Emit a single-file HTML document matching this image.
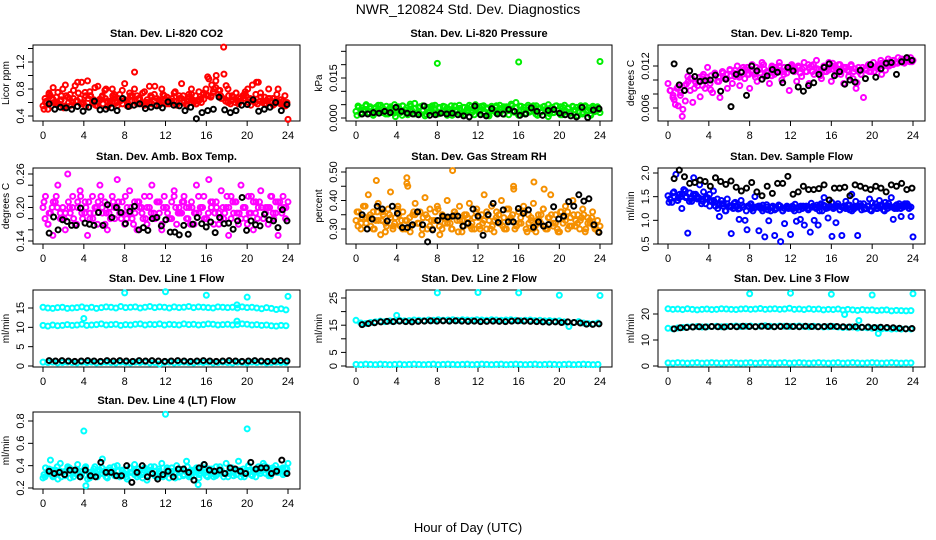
<!DOCTYPE html>
<html><head><meta charset="utf-8">
<style>
html,body{margin:0;padding:0;background:#fff;}
svg{display:block;font-family:"Liberation Sans",Arial,sans-serif;}
</style></head>
<body>
<svg id="chart" width="936" height="540" viewBox="0 0 936 540">
<text x="468" y="14" text-anchor="middle" font-size="14">NWR_120824  Std. Dev. Diagnostics</text>
<text x="468" y="532" text-anchor="middle" font-size="13">Hour of Day (UTC)</text>
</svg>
<script>
// ---------- data arrays ----------
const xTicks = [0,4,8,12,16,20,24];

const co2Red = [0.55,0.6,0.5,0.7,0.65,0.58,0.75,0.62,0.8,0.55,0.68,0.72,0.6,0.85,0.9,0.66,0.58,0.75,0.92,0.7,0.6,0.82,0.55,0.65,0.7,0.78,0.62,0.58,0.8,0.68,0.6,0.72,0.66,0.88,0.55,0.74,0.62,1.05,0.7,0.64,0.58,0.76,0.6,0.84,0.68,0.72,0.56,0.62,0.8,0.7,0.6,0.58,0.66,0.74,0.62,0.7,0.88,0.6,0.56,0.68,0.72,0.62,0.58,0.76,0.6,0.65,0.72,0.95,0.7,0.8,1.0,0.78,0.66,1.42,0.85,0.7,0.62,0.68,0.74,0.58,0.62,0.66,0.7,0.6,0.56,0.64,0.72,0.9,0.68,0.62,0.58,0.66,0.6,0.56,0.62,0.8,0.58,0.62,0.55,0.35];
const co2Red2 = [0.5,0.62,0.72,0.55,0.6,0.68,0.58,0.64,0.52,0.7,0.6,0.56,0.66,0.62,0.74,0.58,0.6,0.54,0.66,0.7,0.62,0.56,0.6,0.64,0.58,0.66,0.54,0.62,0.7,0.6,0.56,0.62,0.58,0.64,0.6,0.55,0.7,0.62,0.58,0.66,0.6,0.56,0.64,0.6,0.58,0.62,0.66,0.56,0.6,0.62,0.58,0.64,0.6,0.62,0.56,0.6,0.66,0.62,0.58,0.72,0.64,0.6,0.58,0.62,0.66,0.74,0.8,0.7,0.68,0.76,0.82,0.72,0.7,0.66,0.62,0.6,0.58,0.64,0.6,0.62,0.66,0.7,0.76,0.8,0.66,0.62,0.6,0.58,0.62,0.6,0.58,0.62,0.66,0.6,0.58,0.62,0.6,0.58,0.56,0.6];
const co2Red3 = [0.66,0.74,0.82,0.6,0.7,0.86,0.66,0.78,0.62,0.9,0.7,0.76,0.64,0.84,0.68,0.8,0.6,0.72,0.66,0.78,0.62,0.7,0.8,0.66,0.74,0.6,0.7,0.84,0.64,0.72,0.68,0.62,0.76,0.66,0.7,0.62,0.8,0.7,0.64,0.72,0.98,0.86,0.92,0.78,1.02,0.8,0.7,0.74,0.66,0.72,0.64,0.86,0.9,0.74,0.68,0.8,0.66,0.72,0.64,0.7];
const co2Black = [0.58,0.5,0.53,0.52,0.5,0.54,0.47,0.53,0.62,0.49,0.5,0.52,0.48,0.66,0.54,0.56,0.58,0.51,0.53,0.55,0.52,0.61,0.56,0.55,0.48,0.53,0.36,0.45,0.48,0.5,0.68,0.49,0.45,0.48,0.56,0.57,0.64,0.47,0.5,0.53,0.6,0.48,0.57];

const presGreen = [0.0025,0.004,0.0015,0.003,0.0045,0.002,0.0035,0.001,0.004,0.0025,0.0048,0.002,0.003,0.0015,0.0042,0.0028,0.0005,0.0038,0.002,0.0045,0.003,0.0012,0.0052,0.0025,0.0035,0.0018,0.0042,0.003,0.0008,0.004,0.0022,0.0046,0.003,0.0015,0.0038,0.0025,0.0042,0.002,0.0032,0.001,0.0045,0.0028,0.0036,0.0018,0.004,0.0022,0.0048,0.003,0.0012,0.0038,0.0025,0.0044,0.0018,0.0034,0.0008,0.004,0.0026,0.0046,0.002,0.0036,0.0014,0.0042,0.0028,0.0052,0.0022,0.0038,0.001,0.0044,0.003,0.0018,0.004,0.0025,0.0046,0.0015,0.0035,0.0022,0.0042,0.0028,0.0005,0.0038,0.002,0.0045,0.003,0.0012,0.004,0.0025,0.0035,0.0018,0.0042,0.003,0.0008,0.004,0.0022,0.0046,0.003,0.0015,0.0038,0.0025,0.0042,0.002];
const presGreen2 = [0.001,0.002,0.003,0.0018,0.0012,0.0028,0.0022,0.0015,0.0032,0.0018,0.0025,0.001,0.002,0.003,0.0015,0.0022,0.0028,0.0012,0.0035,0.002,0.0016,0.0026,0.001,0.0022,0.003,0.0018,0.0012,0.0028,0.002,0.0032,0.0015,0.0024,0.001,0.0028,0.0018,0.0022,0.0035,0.0012,0.0026,0.0018,0.003,0.0015,0.0022,0.0028,0.001,0.0024,0.0032,0.0016,0.002,0.0028,0.0012,0.0025,0.0018,0.003,0.0022,0.0015,0.0028,0.001,0.0024,0.0032];
const presGreen3 = [0.0045,0.0038,0.005,0.0042,0.0035,0.0048,0.004,0.0044,0.0036,0.005,0.0042,0.0046,0.0038,0.0044,0.0055,0.004,0.0046,0.0036,0.0042,0.0048,0.004,0.0044,0.0038,0.0046,0.0042,0.0048,0.004,0.0036,0.0044,0.005,0.0042,0.0046,0.0038,0.0044,0.004,0.0048,0.0042,0.0036,0.0046,0.0058,0.0044,0.004,0.0048,0.0042,0.0046,0.0038,0.0044,0.005,0.004,0.0046,0.0042,0.0048,0.0038,0.0044,0.004,0.0046,0.0042,0.0038,0.0044,0.004];
const presBlack = [0.0015,0.0015,0.002,0.0018,0.0025,0.002,0.004,0.0025,0.0018,0.0015,0.0012,0.0045,0.001,0.0012,0.0018,0.0015,0.0018,0.0012,0.0008,0.0004,0.0045,0.0012,0.0008,0.0035,0.0015,0.0015,0.0032,0.0025,0.001,0.0015,0.0038,0.0025,0.001,0.0028,0.0032,0.0018,0.0012,0.0008,0.0004,0.004,0.0002,0.003,0.0035];
const presOutHours = [8,16,24];
const presOutVals = [0.0205,0.021,0.0212];

const tempMag = [0.0095,0.0085,0.0075,0.0065,0.009,0.0078,0.0058,0.007,0.0105,0.0085,0.0068,0.0098,0.0092,0.0076,0.0105,0.0088,0.0118,0.0095,0.0082,0.0108,0.0098,0.0075,0.0112,0.0102,0.0088,0.0115,0.0095,0.0105,0.012,0.0092,0.0112,0.0102,0.0118,0.0088,0.0122,0.0108,0.0098,0.0115,0.0125,0.0105,0.0112,0.0095,0.012,0.0108,0.0115,0.0125,0.01,0.0118,0.011,0.0085,0.0122,0.0112,0.0098,0.0118,0.0105,0.0125,0.0112,0.0095,0.012,0.0108,0.0128,0.0115,0.0102,0.012,0.0112,0.0125,0.0098,0.0115,0.0108,0.0122,0.0112,0.0095,0.0118,0.0105,0.0122,0.0112,0.0088,0.0118,0.0108,0.0075,0.0115,0.0122,0.0112,0.0125,0.0118,0.0122,0.0128,0.012,0.0125,0.013,0.0122,0.0128,0.0125,0.0132,0.0128,0.0125,0.013,0.0128,0.0132,0.0128];
const tempMag2 = [0.0078,0.0088,0.0082,0.0092,0.0098,0.0102,0.0096,0.0104,0.0108,0.01,0.0106,0.011,0.0104,0.0112,0.0108,0.0114,0.011,0.0106,0.0112,0.0116,0.0108,0.0114,0.0118,0.011,0.0116,0.0112,0.0118,0.0114,0.012,0.0112,0.0116,0.0118,0.0114,0.012,0.0116,0.0112,0.0118,0.0122,0.0116,0.0112,0.0118,0.0114,0.012,0.0116,0.0122,0.0118,0.0114,0.012,0.0116,0.0112,0.0118,0.0114,0.0118,0.0112,0.0116,0.0108,0.0114,0.012,0.0122,0.0124,0.0126,0.0124,0.0128,0.0126];
const tempMag3 = [0.0085,0.0072,0.0063,0.0048,0.0094,0.0102,0.0088,0.0098,0.0092,0.0104,0.0086,0.0108,0.0098,0.011,0.0102,0.0106,0.0114,0.0104,0.0118,0.0108,0.0112,0.0104,0.0116,0.0122,0.011,0.0106,0.0118,0.0112,0.0108,0.0116,0.012,0.0114,0.011,0.0118,0.0122,0.0112,0.0116,0.0106,0.0112,0.0118,0.0124,0.0114,0.0108,0.0118,0.0112,0.0102,0.0096,0.0108,0.0116,0.0112,0.0118,0.012,0.0124,0.0122,0.0126,0.0128,0.0124,0.013,0.0128,0.0126];
const tempBlack = [0.0123,0.0093,0.0085,0.0113,0.0105,0.0098,0.0099,0.01,0.0107,0.0084,0.0101,0.0062,0.0108,0.0111,0.0078,0.012,0.0113,0.0101,0.0106,0.0115,0.0111,0.0096,0.0118,0.0113,0.009,0.0084,0.0092,0.0096,0.0108,0.0118,0.0123,0.0106,0.0112,0.0094,0.01,0.0097,0.0114,0.0102,0.0122,0.0104,0.0116,0.0124,0.0125,0.0108,0.0126,0.0132,0.0128];

const ambMag = [0.2,0.22,0.17,0.19,0.15,0.21,0.24,0.18,0.2,0.16,0.26,0.19,0.22,0.17,0.2,0.23,0.18,0.21,0.15,0.19,0.22,0.2,0.17,0.24,0.19,0.21,0.16,0.2,0.22,0.18,0.25,0.19,0.21,0.17,0.2,0.23,0.18,0.21,0.16,0.2,0.19,0.22,0.17,0.2,0.24,0.18,0.21,0.19,0.16,0.22,0.2,0.18,0.21,0.23,0.17,0.2,0.19,0.22,0.18,0.2,0.21,0.17,0.24,0.19,0.2,0.22,0.18,0.25,0.2,0.17,0.21,0.19,0.23,0.18,0.2,0.15,0.22,0.19,0.21,0.17,0.24,0.2,0.18,0.22,0.19,0.16,0.21,0.2,0.23,0.18,0.2,0.17,0.22,0.19,0.21,0.15,0.2,0.22,0.18,0.21];
const ambMag2 = [0.18,0.19,0.21,0.2,0.18,0.19,0.2,0.18,0.21,0.19,0.2,0.18,0.19,0.21,0.2,0.19,0.18,0.2,0.21,0.19,0.18,0.2,0.19,0.21,0.18,0.2,0.19,0.18,0.21,0.2,0.19,0.18,0.2,0.19,0.21,0.18,0.2,0.19,0.2,0.18,0.19,0.21,0.2,0.18,0.19,0.2,0.21,0.19,0.18,0.2,0.19,0.21,0.18,0.2,0.19,0.2,0.18,0.21,0.19,0.2];
const ambMag3 = [0.21,0.17,0.2,0.22,0.19,0.18,0.21,0.2,0.17,0.22,0.19,0.21,0.18,0.2,0.22,0.17,0.19,0.21,0.2,0.18,0.22,0.19,0.17,0.21,0.2,0.18,0.22,0.19,0.21,0.17,0.2,0.18,0.22,0.19,0.21,0.2,0.17,0.19,0.22,0.2,0.18,0.21,0.19,0.17,0.2,0.22,0.18,0.21,0.19,0.2,0.17,0.22,0.19,0.21,0.18,0.2,0.22,0.19,0.21,0.2];
const ambBlack = [0.154,0.183,0.16,0.178,0.175,0.168,0.168,0.199,0.172,0.17,0.168,0.191,0.168,0.205,0.182,0.2,0.191,0.171,0.193,0.202,0.16,0.164,0.159,0.18,0.182,0.167,0.178,0.156,0.156,0.151,0.168,0.152,0.17,0.182,0.171,0.165,0.174,0.155,0.182,0.171,0.172,0.161,0.176,0.218,0.159,0.176,0.169,0.167,0.188,0.178,0.176,0.164,0.196,0.176];

const rhOrange = [0.33,0.36,0.3,0.38,0.34,0.42,0.31,0.36,0.33,0.39,0.28,0.35,0.32,0.37,0.43,0.3,0.34,0.38,0.31,0.36,0.33,0.45,0.29,0.35,0.39,0.32,0.36,0.3,0.41,0.34,0.37,0.3,0.33,0.38,0.28,0.35,0.32,0.4,0.34,0.3,0.36,0.33,0.38,0.29,0.35,0.32,0.39,0.3,0.34,0.37,0.31,0.35,0.42,0.3,0.33,0.38,0.29,0.36,0.32,0.4,0.34,0.3,0.37,0.33,0.44,0.31,0.36,0.32,0.38,0.3,0.35,0.33,0.39,0.29,0.35,0.32,0.37,0.3,0.34,0.42,0.31,0.35,0.29,0.36,0.32,0.38,0.3,0.34,0.4,0.31,0.35,0.33,0.37,0.29,0.34,0.32,0.36,0.3,0.33,0.31];
const rhOrange2 = [0.31,0.34,0.32,0.35,0.3,0.33,0.36,0.31,0.34,0.32,0.35,0.3,0.33,0.31,0.35,0.32,0.34,0.3,0.33,0.36,0.31,0.34,0.32,0.3,0.35,0.33,0.31,0.34,0.32,0.36,0.3,0.33,0.35,0.31,0.34,0.32,0.3,0.33,0.35,0.31,0.34,0.36,0.32,0.3,0.33,0.35,0.31,0.34,0.32,0.3,0.36,0.33,0.31,0.35,0.32,0.34,0.3,0.33,0.31,0.29];
const rhOrange3 = [0.36,0.32,0.38,0.34,0.3,0.36,0.33,0.29,0.35,0.31,0.37,0.33,0.3,0.34,0.36,0.32,0.28,0.35,0.31,0.33,0.37,0.3,0.34,0.32,0.36,0.29,0.33,0.35,0.31,0.3,0.34,0.32,0.36,0.3,0.33,0.35,0.31,0.37,0.34,0.3,0.32,0.36,0.29,0.34,0.31,0.33,0.37,0.3,0.35,0.32,0.29,0.34,0.36,0.31,0.33,0.3,0.35,0.32,0.34,0.3];
const rhOutHours = [2,5,5,9.5,15.5,17.5,18.5];
const rhOutVals = [0.47,0.48,0.46,0.505,0.45,0.465,0.44];
const rhBlack = [0.35,0.3,0.335,0.38,0.37,0.328,0.38,0.355,0.305,0.305,0.315,0.36,0.315,0.255,0.297,0.33,0.345,0.342,0.345,0.345,0.31,0.32,0.37,0.345,0.278,0.35,0.39,0.323,0.367,0.325,0.325,0.372,0.355,0.367,0.306,0.325,0.31,0.316,0.378,0.335,0.345,0.396,0.38,0.42,0.398,0.406,0.315,0.288];

const flowBlue = [1.52,1.45,1.38,1.6,1.97,1.42,1.55,1.25,1.65,1.48,0.73,1.58,1.4,1.9,1.55,1.5,1.75,1.45,1.6,1.35,1.48,1.55,1.4,1.62,1.3,1.45,1.08,1.42,1.35,1.2,1.45,1.3,0.72,1.25,1.38,1.3,1.02,1.42,1.28,1.0,0.8,1.3,1.35,1.2,1.5,1.28,0.78,1.25,1.32,0.65,1.28,0.99,1.2,1.3,0.68,1.25,1.32,0.55,1.2,0.93,1.28,1.25,0.7,1.3,1.2,0.98,1.28,1.02,1.25,0.9,1.3,1.22,0.75,1.28,1.0,1.25,0.9,1.32,1.2,1.48,1.25,1.05,1.3,0.66,1.28,0.95,1.35,1.22,0.68,1.3,1.4,1.25,1.32,1.55,1.28,1.4,0.68,1.3,1.22,1.35,1.25,1.3,1.45,1.2,1.28,1.35,1.25,1.42,1.3,1.22,1.38,1.25,1.3,1.48,1.02,1.3,1.25,1.35,1.08,1.28,1.3,1.35,1.25,1.08,0.65];
const flowBlue2 = [1.45,1.5,1.48,1.55,1.5,1.45,1.52,1.48,1.4,1.45,1.42,1.38,1.32,1.3,1.35,1.28,1.3,1.25,1.28,1.3,1.25,1.28,1.3,1.25,1.22,1.28,1.25,1.3,1.25,1.28,1.24,1.26,1.3,1.28,1.25,1.3,1.32,1.35,1.3,1.28,1.25,1.3,1.28,1.25,1.22,1.24,1.28,1.3,1.25,1.22,1.28,1.3,1.32,1.3,1.28,1.25,1.3,1.32,1.3,1.28];
const flowBlue3 = [1.38,1.58,1.42,1.5,1.62,1.4,1.55,1.45,1.35,1.48,1.3,1.42,1.25,1.35,1.2,1.3,1.36,1.24,1.32,1.2,1.34,1.26,1.3,1.2,1.33,1.27,1.22,1.32,1.2,1.3,1.26,1.34,1.22,1.3,1.25,1.36,1.28,1.2,1.32,1.26,1.38,1.3,1.22,1.27,1.33,1.2,1.28,1.35,1.24,1.3,1.37,1.25,1.32,1.2,1.36,1.28,1.33,1.25,1.35,1.3];
const flowBlack = [1.88,2.06,1.92,1.78,1.8,1.85,1.82,1.72,1.9,1.82,1.76,1.83,1.7,1.62,1.68,1.8,1.6,1.52,1.72,1.57,1.78,1.78,1.93,1.55,1.6,1.72,1.65,1.65,1.67,1.75,1.43,1.68,1.68,1.7,1.52,1.75,1.72,1.68,1.65,1.72,1.68,1.6,1.75,1.72,1.78,1.65,1.68];

const l1Top = [15.2,15,14.9,15.1,15.2,14.9,15,15.1,15.3,15,15.2,14.9,15.1,15.3,15.2,15,15.4,15.1,15.2,15.3,15,15.2,15.4,15.1,15.3,15.2,15,15.3,15.1,15.2,15.4,15.1,15.3,15.2,15.1,15,15.3,15.2,15.1,15.2,15,15.3,15.1,15.2,15,14.8,15.1,14.9,14.6,14.8,14.5];
const l1Mid = [10.5,10.3,10.6,10.4,10.5,10.7,10.5,10.6,10.8,10.5,10.6,10.7,10.9,10.6,10.7,10.8,10.5,10.7,10.6,10.8,10.9,10.6,10.8,10.7,10.9,10.6,10.8,10.7,10.6,10.9,10.7,10.8,10.6,10.7,10.9,10.8,10.6,10.7,10.8,10.6,10.7,10.9,10.8,10.6,10.7,10.5,10.6,10.4,10.3,10.5,10.4];
const l1Low = [1,0.9,1,0.8,0.9,1,0.9,0.8,1,0.9,1,0.8,0.9,1,0.9,0.8,1,0.9,0.8,1,0.9,1,0.8,0.9,0.5,0.9,1,0.8,0.9,1,0.9,0.8,1,0.9,1,0.8,0.9,1,0.9,0.8,1,0.9,0.8,1,0.9,1,0.8,0.9,1,0.9,0.9];
const l1Black = [1.4,1.3,1.4,1.3,1.2,1.3,1.4,1.3,1.2,1.4,1.3,1.4,1.3,1.2,1.4,1.3,1.4,1.3,1.2,1.3,1.4,1.3,1.2,1.3,1.4,1.3,1.2,1.3,1.4,1.3,1.2,1.3,1.4,1.3,1.2,1.3,1.4,1.3];
const l1OutHours = [4,8,12,16,19,19,20,24];
const l1OutVals = [12.3,18.9,19.2,18.3,15.8,11.6,17.8,18];

const l2Top = [16.8,15.8,15.6,16,16.2,16.5,16.3,16.6,16.5,16.8,16.6,16.7,16.9,16.8,16.7,16.9,16.8,17,16.8,16.9,17,16.8,17,16.9,16.8,17,16.9,16.8,17,16.9,16.8,16.9,17,16.8,16.7,16.8,16.9,16.7,16.8,16.6,16.7,16.5,16.6,16.2,14.5,16,16.3,15.8,15.6,15.5,15.8];
const l2Low = [0.6,0.5,0.7,0.6,0.5,0.7,0.6,0.5,0.6,0.7,0.5,0.6,0.7,0.6,0.5,0.6,0.7,0.5,0.6,0.7,0.6,0.5,0.6,0.7,0.5,0.6,0.7,0.6,0.5,0.6,0.7,0.5,0.6,0.7,0.6,0.5,0.6,0.7,0.5,0.6,0.7,0.6,0.5,0.6,0.7,0.5,0.6,0.7,0.6,0.5,0.6];
const l2Black = [15.2,15.6,15.9,16.2,16.4,16.3,16.5,16.3,16.2,16.4,16.5,16.6,16.5,16.6,16.5,16.6,16.5,16.4,16.5,16.3,16.4,16.5,16.4,16.3,16.5,16.6,16.5,16.4,16.3,16.2,16.1,16.2,16,16.2,16,15.8,15.4,15.3,15.5];
const l2OutHours = [4,8,12,16,20,24];
const l2OutVals = [18.6,26.9,27,26.9,26,25.9];

const l3Top = [22,21.8,21.9,21.7,22,21.8,21.6,21.8,21.9,21.7,21.8,22,21.9,21.8,21.7,21.9,22,21.8,21.9,22.1,21.8,21.9,22,21.8,21.9,22.2,21.8,21.9,21.7,22,21.8,21.9,21.6,21.8,21.7,21.9,21.5,21.8,21.6,21.4,21.7,21.5,21.6,21.3,21.5,21.6,21.2,21.4,21.3,21.2,21.3];
const l3Mid = [14.5,14.3,14.6,14.8,15,15.1,15.2,15,15.1,15.2,15.3,15.1,15.2,15.3,15.4,15.2,15.3,15.4,15.2,15.3,15.5,15.3,15.2,15.4,15.3,15.2,15.3,15.4,15.2,15.1,15.3,15.2,15,15.1,15.2,15,14.8,14.9,15,14.6,14.8,14.7,14.5,14.6,14.3,14.4,14.2,14.3,14.2,14.3,14.2];
const l3Low = [1.2,1.1,1.3,1.2,1.1,1.2,1.3,1.1,1.2,1.3,1.2,1.1,1.2,1.3,1.2,1.1,1.2,1.3,1.1,1.2,1.3,1.2,1.1,1.2,1.3,1.1,1.2,1.3,1.2,1.1,1.2,1.3,1.2,1.1,1.2,1.3,1.1,1.2,1.3,1.2,1.1,1.2,1.3,1.2,1.1,1.2,1.3,1.2,1.1,1.2,1.2];
const l3Black = [14.3,14.7,14.8,15,15.1,15,15.2,15.1,15,15.2,15.1,15.3,15.2,15.1,15.3,15.2,15.1,15.2,15.3,15.2,15.1,15.3,15.2,15.1,15.2,15.3,15.2,15.1,15,15.1,14.9,15,14.8,14.9,14.8,14.7,14.5,14.3,14.4];
const l3OutHours = [8,12,16,17.3,18.7,20,20.6,24];
const l3OutVals = [27.8,28,27.6,19.8,17.5,27.3,12.5,27.8];

const ltCyan = [0.29,0.38,0.33,0.45,0.3,0.36,0.28,0.42,0.34,0.31,0.39,0.29,0.36,0.33,0.41,0.3,0.35,0.38,0.28,0.34,0.32,0.39,0.3,0.36,0.46,0.33,0.29,0.38,0.35,0.31,0.4,0.3,0.36,0.33,0.28,0.38,0.34,0.41,0.3,0.35,0.32,0.38,0.27,0.36,0.33,0.39,0.3,0.35,0.42,0.31,0.36,0.29,0.38,0.33,0.4,0.3,0.35,0.32,0.44,0.3,0.36,0.34,0.38,0.29,0.35,0.41,0.31,0.37,0.33,0.3,0.39,0.34,0.36,0.3,0.42,0.33,0.38,0.31,0.36,0.44,0.3,0.37,0.34,0.4,0.32,0.36,0.3,0.39,0.35,0.42,0.33,0.38,0.31,0.36,0.4,0.34,0.37,0.32,0.38,0.42];
const ltCyan2 = [0.32,0.34,0.36,0.33,0.35,0.32,0.36,0.34,0.33,0.35,0.36,0.32,0.34,0.35,0.33,0.36,0.34,0.32,0.35,0.33,0.36,0.34,0.35,0.32,0.34,0.36,0.33,0.35,0.34,0.32,0.36,0.35,0.33,0.34,0.36,0.32,0.35,0.34,0.33,0.36,0.34,0.35,0.32,0.36,0.33,0.35,0.34,0.36,0.33,0.35,0.36,0.34,0.35,0.37,0.36,0.35,0.37,0.36,0.38,0.37];
const ltCyan3 = [0.3,0.37,0.31,0.39,0.3,0.35,0.38,0.3,0.36,0.32,0.39,0.29,0.37,0.31,0.38,0.3,0.36,0.39,0.31,0.35,0.3,0.38,0.32,0.37,0.29,0.36,0.39,0.31,0.37,0.3,0.38,0.33,0.29,0.37,0.31,0.39,0.3,0.36,0.32,0.38,0.3,0.37,0.31,0.39,0.33,0.3,0.38,0.32,0.36,0.3,0.39,0.31,0.37,0.33,0.4,0.31,0.38,0.34,0.36,0.33];
const ltOutHours = [4,4.2,12,15.2,20];
const ltOutVals = [0.71,0.22,0.86,0.23,0.73];
const ltBlack = [0.35,0.33,0.34,0.32,0.36,0.36,0.3,0.36,0.31,0.3,0.43,0.34,0.34,0.31,0.31,0.4,0.25,0.34,0.4,0.3,0.33,0.28,0.32,0.35,0.3,0.37,0.37,0.34,0.27,0.38,0.41,0.36,0.35,0.36,0.33,0.38,0.37,0.35,0.33,0.43,0.37,0.38,0.38,0.33,0.35,0.45,0.33];

// ---------- layout ----------
const NS = "http://www.w3.org/2000/svg";
const svg = document.getElementById('chart');
const cols = [[33,300],[346,612],[658,925]];
const rows = [[45,121],[168,244],[290,367],[412,489]];

function mk(tag, attrs, parent){
  const e = document.createElementNS(NS, tag);
  for (const k in attrs) e.setAttribute(k, attrs[k]);
  (parent||svg).appendChild(e);
  return e;
}

function panel(name, title, ylabel, col, row, ya, yb, yTicks, yLabels){
  const [bx0,bx1] = cols[col], [by0,by1] = rows[row];
  const g = mk('g', {});
  
  
  const xs = v => bx0 + 10 + v*(bx1-bx0-22)/24;
  const ys = v => ya[1] + (v-ya[0])*(yb[1]-ya[1])/(yb[0]-ya[0]);
  const box = mk('rect', {x:bx0, y:by0, width:bx1-bx0, height:by1-by0, fill:'none', stroke:'#000', 'stroke-width':1}, g);
  
  
  const t = mk('text', {x:(bx0+bx1)/2, y:by0-8, 'text-anchor':'middle', 'font-size':11, 'font-weight':'bold'}, g);
  t.textContent = title;
  
  
  const xa = mk('g', {}, g);
  
  
  mk('line', {x1:xs(xTicks[0]), x2:xs(xTicks[xTicks.length-1]), y1:by1, y2:by1, stroke:'#000'}, xa);
  xTicks.forEach(v => {
    mk('line', {x1:xs(v), x2:xs(v), y1:by1, y2:by1+5, stroke:'#000'}, xa);
    const l = mk('text', {x:xs(v), y:by1+18, 'text-anchor':'middle', 'font-size':11}, xa);
    l.textContent = v;
    
    
  });
  const yaG = mk('g', {}, g);
  
  
  mk('line', {x1:bx0, x2:bx0, y1:ys(yTicks[0]), y2:ys(yTicks[yTicks.length-1]), stroke:'#000'}, yaG);
  yTicks.forEach(v => {
    mk('line', {x1:bx0-5, x2:bx0, y1:ys(v), y2:ys(v), stroke:'#000'}, yaG);
  });
  yLabels.forEach(s => {
    const v = parseFloat(s);
    const l = mk('text', {x:0, y:0, 'text-anchor':'middle', 'font-size':11, transform:`translate(${bx0-9},${ys(v)}) rotate(-90)`}, yaG);
    l.textContent = s;
    
    
  });
  const yl = mk('text', {x:0, y:0, 'text-anchor':'middle', 'font-size':10, transform:`translate(${bx0-24},${(by0+by1)/2}) rotate(-90)`}, g);
  yl.textContent = ylabel;
  
  
  const pts = mk('g', {'fill':'none', 'stroke-width':2}, g);
  
  
  return {xs, ys, pts};
}

function series(p, vals, color, h0, h1){
  const n = vals.length;
  vals.forEach((v,i) => {
    const h = h0 + i*(h1-h0)/(n-1);
    const c = mk('circle', {cx:p.xs(h), cy:p.ys(v), r:2.5, stroke:color}, p.pts);
    
    
  });
}
function outliers(p, hours, vals, color){
  hours.forEach((h,i) => {
    const c = mk('circle', {cx:p.xs(h), cy:p.ys(vals[i]), r:2.5, stroke:color}, p.pts);
    
    
  });
}

const RED='#ff0000', GRN='#00ee00', MAG='#ff00ff', ORG='#f59000', BLU='#0000ff', CYN='#00ffff', BLK='#000000';

let p = panel('co2','Stan. Dev. Li-820 CO2','Licor ppm',0,0,[0.4,116],[1.2,62],[0.4,0.6,0.8,1.0,1.2,1.4],['0.4','0.8','1.2']);
series(p, co2Red, RED, 0, 24); series(p, co2Red2, RED, 0.1, 23.9); series(p, co2Red3, RED, 0.2, 23.7); series(p, co2Black, BLK, 0.6, 23.9);

p = panel('pressure','Stan. Dev. Li-820 Pressure','kPa',1,0,[0,118],[0.015,78],[0,0.005,0.01,0.015,0.02,0.025],['0.000','0.015']);
series(p, presGreen, GRN, 0, 24); series(p, presGreen2, GRN, 0.1, 23.9); series(p, presGreen3, GRN, 0.2, 23.7); outliers(p, presOutHours, presOutVals, GRN); series(p, presBlack, BLK, 0.6, 23.9);

p = panel('temp','Stan. Dev. Li-820 Temp.','degrees C',2,0,[0.006,108],[0.012,66],[0.006,0.008,0.01,0.012],['0.006','0.012']);
series(p, tempMag, MAG, 0, 24); series(p, tempMag2, MAG, 0.5, 23.9); series(p, tempMag3, MAG, 0.2, 23.7); series(p, tempBlack, BLK, 0.6, 23.9);

p = panel('amb-box','Stan. Dev. Amb. Box Temp.','degrees C',0,1,[0.14,241],[0.26,174],[0.14,0.16,0.18,0.2,0.22,0.24,0.26],['0.14','0.20','0.26']);
series(p, ambMag, MAG, 0, 24); series(p, ambMag2, MAG, 0.2, 23.8); series(p, ambMag3, MAG, 0.1, 23.6); series(p, ambBlack, BLK, 0.6, 23.9);

p = panel('gas-rh','Stan. Dev. Gas Stream RH','percent',1,1,[0.3,229],[0.5,172],[0.3,0.35,0.4,0.45,0.5],['0.30','0.40','0.50']);
series(p, rhOrange, ORG, 0, 24); series(p, rhOrange2, ORG, 0.2, 23.8); series(p, rhOrange3, ORG, 0.1, 23.6); outliers(p, rhOutHours, rhOutVals, ORG); series(p, rhBlack, BLK, 0.6, 23.9);

p = panel('sample-flow','Stan. Dev. Sample Flow','ml/min',2,1,[0.5,244],[2.0,173],[0.5,1.0,1.5,2.0],['0.5','1.0','1.5','2.0']);
series(p, flowBlue, BLU, 0, 24); series(p, flowBlue2, BLU, 0.2, 23.8); series(p, flowBlue3, BLU, 0.1, 23.6); series(p, flowBlack, BLK, 0.6, 23.9);

p = panel('line1','Stan. Dev. Line 1 Flow','ml/min',0,2,[0,366],[15,308],[0,5,10,15],['0','5','10','15']);
series(p, l1Top, CYN, 0, 23.8); series(p, l1Mid, CYN, 0, 23.8); series(p, l1Low, CYN, 0, 23.8); outliers(p, l1OutHours, l1OutVals, CYN); series(p, l1Black, BLK, 0.6, 23.9);

p = panel('line2','Stan. Dev. Line 2 Flow','ml/min',1,2,[0,366],[25,298],[0,5,10,15,20,25],['0','5','15','25']);
series(p, l2Top, CYN, 0, 23.8); series(p, l2Low, CYN, 0, 23.8); outliers(p, l2OutHours, l2OutVals, CYN); series(p, l2Black, BLK, 0.6, 23.9);

p = panel('line3','Stan. Dev. Line 3 Flow','ml/min',2,2,[0,366],[20,314],[0,10,20],['0','10','20']);
series(p, l3Top, CYN, 0, 23.8); series(p, l3Mid, CYN, 0, 23.8); series(p, l3Low, CYN, 0, 23.8); outliers(p, l3OutHours, l3OutVals, CYN); series(p, l3Black, BLK, 0.6, 23.9);

p = panel('line4','Stan. Dev. Line 4 (LT) Flow','ml/min',0,3,[0.2,488],[0.8,421],[0.2,0.4,0.6,0.8],['0.2','0.4','0.6','0.8']);
series(p, ltCyan, CYN, 0, 24); series(p, ltCyan2, CYN, 0.1, 23.9); series(p, ltCyan3, CYN, 0.2, 23.7); outliers(p, ltOutHours, ltOutVals, CYN); series(p, ltBlack, BLK, 0.6, 23.9);
</script>
</body></html>
